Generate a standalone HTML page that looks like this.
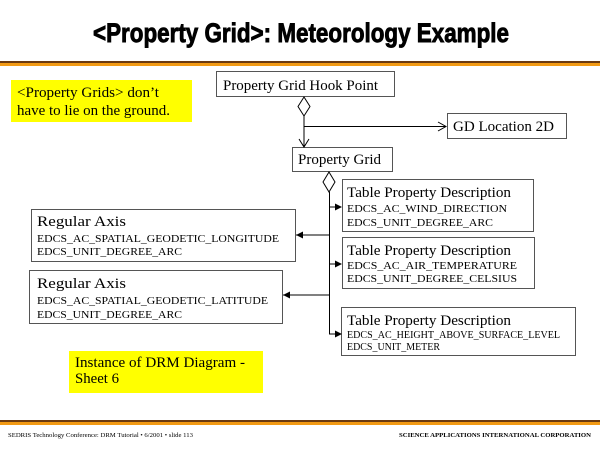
<!DOCTYPE html>
<html><head><meta charset="utf-8"><style>
html,body{margin:0;padding:0;background:#fff;}
svg{display:block;}
.t{font-family:"Liberation Serif",serif;fill:#000;}
</style></head><body>
<svg width="600" height="450" viewBox="0 0 600 450" xmlns="http://www.w3.org/2000/svg">
<text x="93" y="42" font-family="Liberation Sans Narrow, Liberation Sans, sans-serif" font-weight="bold" font-size="27" stroke="#000" stroke-width="0.9" textLength="416" lengthAdjust="spacingAndGlyphs">&lt;Property Grid&gt;: Meteorology Example</text>
<rect x="0" y="61" width="600" height="2" fill="#6b3a10"/>
<rect x="0" y="63" width="600" height="3" fill="#f29a14"/>
<rect x="0" y="420" width="600" height="2" fill="#6b3a10"/>
<rect x="0" y="422" width="600" height="3" fill="#f29a14"/>
<text x="8" y="437" class="t" font-size="6.5" textLength="185" lengthAdjust="spacingAndGlyphs">SEDRIS Technology Conference: DRM Tutorial • 6/2001 • slide 113</text>
<text x="399" y="437" class="t" font-size="6.5" font-weight="bold" textLength="192" lengthAdjust="spacingAndGlyphs">SCIENCE APPLICATIONS INTERNATIONAL CORPORATION</text>

<rect x="11" y="80" width="181" height="42" fill="#ffff00"/>
<text class="t" font-size="15" x="17" y="97" textLength="142" lengthAdjust="spacingAndGlyphs">&lt;Property Grids&gt; don’t</text>
<text class="t" font-size="15" x="17" y="115" textLength="153" lengthAdjust="spacingAndGlyphs">have to lie on the ground.</text>

<rect x="69" y="351" width="194" height="42" fill="#ffff00"/>
<text class="t" font-size="15" x="75" y="367" textLength="170" lengthAdjust="spacingAndGlyphs">Instance of DRM Diagram -</text>
<text class="t" font-size="15" x="75" y="383" textLength="44" lengthAdjust="spacingAndGlyphs">Sheet 6</text>

<g fill="#fff" stroke="#555" stroke-width="1">
<rect x="216.5" y="71.5" width="178" height="25"/>
<rect x="447.5" y="113.5" width="119" height="25"/>
<rect x="292.5" y="147.5" width="100" height="24"/>
<rect x="342.5" y="179.5" width="191" height="52"/>
<rect x="342.5" y="237.5" width="192" height="51"/>
<rect x="341.5" y="307.5" width="234" height="48"/>
<rect x="31.5" y="209.5" width="264" height="52"/>
<rect x="29.5" y="270.5" width="253" height="53"/>
</g>
<g class="t">
<text font-size="15" x="223" y="90" textLength="155" lengthAdjust="spacingAndGlyphs">Property Grid Hook Point</text>
<text font-size="15" x="453" y="131" textLength="101" lengthAdjust="spacingAndGlyphs">GD Location 2D</text>
<text font-size="15" x="298" y="164" textLength="83" lengthAdjust="spacingAndGlyphs">Property Grid</text>
<text font-size="15" x="347" y="197" textLength="164" lengthAdjust="spacingAndGlyphs">Table Property Description</text>
<text font-size="11" x="347" y="212" textLength="160" lengthAdjust="spacingAndGlyphs">EDCS_AC_WIND_DIRECTION</text>
<text font-size="11" x="347" y="226" textLength="146" lengthAdjust="spacingAndGlyphs">EDCS_UNIT_DEGREE_ARC</text>
<text font-size="15" x="347" y="255" textLength="164" lengthAdjust="spacingAndGlyphs">Table Property Description</text>
<text font-size="11" x="347" y="269" textLength="170" lengthAdjust="spacingAndGlyphs">EDCS_AC_AIR_TEMPERATURE</text>
<text font-size="11" x="347" y="282" textLength="170" lengthAdjust="spacingAndGlyphs">EDCS_UNIT_DEGREE_CELSIUS</text>
<text font-size="15" x="347" y="325" textLength="164" lengthAdjust="spacingAndGlyphs">Table Property Description</text>
<text font-size="10" x="347" y="338" textLength="213" lengthAdjust="spacingAndGlyphs">EDCS_AC_HEIGHT_ABOVE_SURFACE_LEVEL</text>
<text font-size="10" x="347" y="350" textLength="93" lengthAdjust="spacingAndGlyphs">EDCS_UNIT_METER</text>
<text font-size="15" x="37" y="226" textLength="89" lengthAdjust="spacingAndGlyphs">Regular Axis</text>
<text font-size="11" x="37" y="242" textLength="242" lengthAdjust="spacingAndGlyphs">EDCS_AC_SPATIAL_GEODETIC_LONGITUDE</text>
<text font-size="11" x="37" y="255" textLength="145" lengthAdjust="spacingAndGlyphs">EDCS_UNIT_DEGREE_ARC</text>
<text font-size="15" x="37" y="288" textLength="89" lengthAdjust="spacingAndGlyphs">Regular Axis</text>
<text font-size="11" x="37" y="304" textLength="231" lengthAdjust="spacingAndGlyphs">EDCS_AC_SPATIAL_GEODETIC_LATITUDE</text>
<text font-size="11" x="37" y="318" textLength="145" lengthAdjust="spacingAndGlyphs">EDCS_UNIT_DEGREE_ARC</text>
</g>

<g stroke="#000" stroke-width="1" fill="none">
<polygon points="304,97 310,106.5 304,116 298,106.5" fill="#fff"/>
<line x1="304" y1="116" x2="304" y2="147"/>
<polyline points="299,139 304,147 309,139"/>
<line x1="304" y1="126.5" x2="446" y2="126.5"/>
<polyline points="438,122 446,126.5 438,131"/>
<polygon points="329,172 335,182 329,192 323,182" fill="#fff"/>
<polyline points="329.5,192 329.5,334 341,334"/>
<line x1="329" y1="207" x2="341" y2="207"/>
<line x1="329" y1="264" x2="341" y2="264"/>
<line x1="296" y1="235" x2="329" y2="235"/>
<line x1="283" y1="295" x2="329" y2="295"/>
</g>
<g fill="#000">
<polygon points="342,207 335,203.5 335,210.5"/>
<polygon points="342,264 335,260.5 335,267.5"/>
<polygon points="342,334 335,330.5 335,337.5"/>
<polygon points="296,235 303,231.5 303,238.5"/>
<polygon points="283,295 290,291.5 290,298.5"/>
</g>
</svg>
</body></html>
